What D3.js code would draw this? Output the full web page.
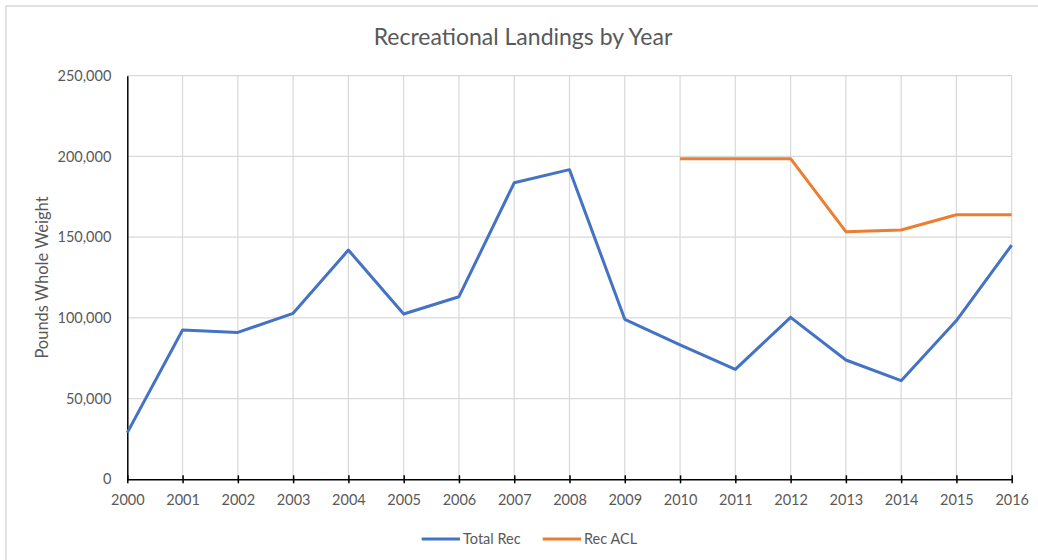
<!DOCTYPE html>
<html><head><meta charset="utf-8">
<script src="https://cdn.jsdelivr.net/npm/d3@7"></script>
<style>
html,body{margin:0;padding:0;background:#fff;}
svg{display:block;font-family:Lato,"Open Sans",sans-serif;}
</style></head>
<body>
<svg id="c" width="1038" height="560"></svg>
<script>
const years = [2000,2001,2002,2003,2004,2005,2006,2007,2008,2009,2010,2011,2012,2013,2014,2015,2016];
const totalRec = [28900,92500,91000,102800,142000,102400,113100,183700,191800,99100,83200,68100,100300,73900,61100,98300,145100];
const aclYears = [2010,2011,2012,2013,2014,2015,2016];
const recACL = [198600,198600,198600,153400,154400,163900,163900];
const yTicks = [0,50000,100000,150000,200000,250000];
const seriesNames = ["Total Rec","Rec ACL"];
const colors = ["#4472C4","#ED7D31"];

const svg = d3.select("#c");
const L = 127.3, R = 1011.7, T = 75.7, B = 479.3;
const x = d3.scaleLinear().domain([2000,2016]).range([L,R]);
const y = d3.scaleLinear().domain([0,250000]).range([B,T]);

// outer border
svg.append("rect").attr("x",6).attr("y",6).attr("width",1040).attr("height",600)
  .attr("fill","none").attr("stroke","#d9d9d9").attr("stroke-width",1.5);

// gridlines
svg.append("g").selectAll("line").data(yTicks.slice(1)).join("line")
  .attr("x1",L).attr("x2",R).attr("y1",d=>y(d)).attr("y2",d=>y(d))
  .attr("stroke","#d9d9d9").attr("stroke-width",1.2);
svg.append("g").selectAll("line").data(years.slice(1)).join("line")
  .attr("x1",d=>x(d)).attr("x2",d=>x(d)).attr("y1",T).attr("y2",B)
  .attr("stroke","#d9d9d9").attr("stroke-width",1.2);

// y axis
const yAxis = d3.axisLeft(y).tickValues(yTicks).tickSize(0).tickPadding(16)
  .tickFormat(d3.format(","));
const gy = svg.append("g").attr("transform",`translate(${L},0)`).call(yAxis);
gy.select(".domain").attr("stroke","#000").attr("stroke-width",1.5);
gy.selectAll("text").attr("fill","#595959").style("font-size","14.5px").style("font-family","Lato,'Open Sans',sans-serif");

// x axis
const xAxis = d3.axisBottom(x).tickValues(years).tickFormat(d3.format("d")).tickSizeInner(4).tickSizeOuter(0).tickPadding(11);
const gx = svg.append("g").attr("transform",`translate(0,${B})`).call(xAxis);
gx.select(".domain").attr("stroke","#000").attr("stroke-width",1.5);
gx.selectAll(".tick line").attr("stroke","#000").attr("stroke-width",1.5).attr("y1",-4).attr("y2",4);
gx.selectAll("text").attr("fill","#595959").style("font-size","14.5px").style("font-family","Lato,'Open Sans',sans-serif");

// lines
const line = d3.line().x(d=>x(d[0])).y(d=>y(d[1]));
svg.append("path").datum(years.map((yr,i)=>[yr,totalRec[i]]))
  .attr("d",line).attr("fill","none").attr("stroke",colors[0]).attr("stroke-width",3).attr("stroke-linejoin","round");
svg.append("path").datum(aclYears.map((yr,i)=>[yr,recACL[i]]))
  .attr("d",line).attr("fill","none").attr("stroke",colors[1]).attr("stroke-width",3).attr("stroke-linejoin","round");

// title
svg.append("text").attr("x",523).attr("y",45).attr("text-anchor","middle")
  .attr("fill","#595959").style("font-size","23px").text("Recreational Landings by Year");

// y title
svg.append("text").attr("transform",`translate(48,${(T+B)/2}) rotate(-90)`).attr("text-anchor","middle")
  .attr("fill","#595959").style("font-size","16.5px").text("Pounds Whole Weight");

// legend
const lg = [{x1:421.7,x2:460},{x1:542.7,x2:581}];
lg.forEach((p,i)=>{
  svg.append("line").attr("x1",p.x1).attr("x2",p.x2).attr("y1",539).attr("y2",539)
    .attr("stroke",colors[i]).attr("stroke-width",3);
  svg.append("text").attr("x",p.x2+3).attr("y",544).attr("fill","#595959")
    .style("font-size","14.5px").text(seriesNames[i]);
});
</script>
</body></html>
